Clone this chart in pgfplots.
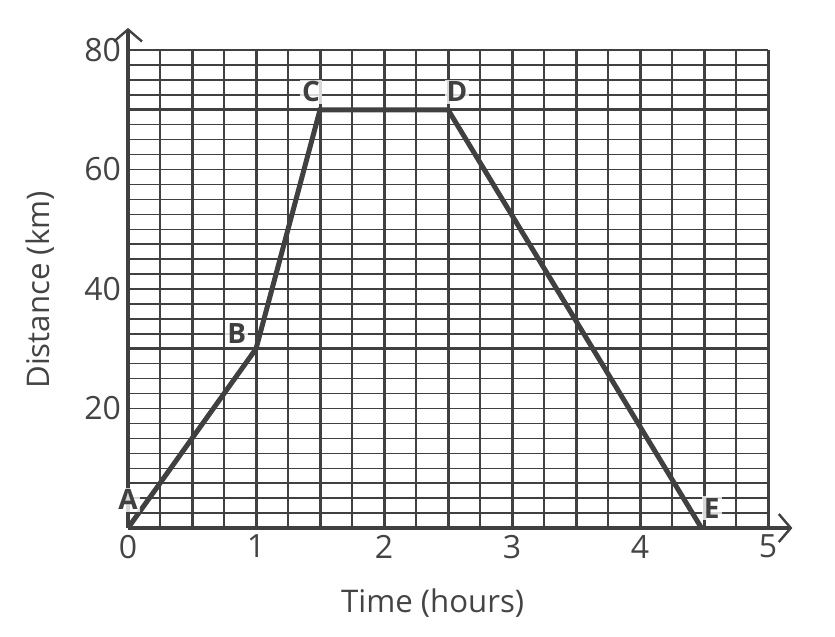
\documentclass[border=0pt]{standalone}
\usepackage{fontspec}
\setmainfont{Open Sans}
\usepackage{pgfplots}
\pgfplotsset{compat=1.18}
\usetikzlibrary{arrows.meta}
\definecolor{ink}{HTML}{404040}
\definecolor{txt}{HTML}{444444}

\begin{document}
\begin{tikzpicture}
  \begin{axis}[
      scale only axis,
      width=320pt,
      height=239pt,
      xmin=0, xmax=5,
      ymin=0, ymax=80,
      clip=false,
      axis x line=bottom,
      axis y line=left,
      axis line style={draw=none},
      major tick length=0pt,
      minor tick length=0pt,
      xtick={0,0.5,...,5},
      xticklabels={0,,1,,2,,3,,4,,5},
      minor x tick num=1,
      ytick={0,2.5,...,80},
      yticklabels={,,,,,,,,20,,,,,,,,40,,,,,,,,60,,,,,,,,80},
      minor y tick num=0,
      grid=both,
      major x grid style={ink, line width=1.5pt},
      minor x grid style={ink, line width=0.75pt},
      major y grid style={ink, line width=0.75pt},
      /pgf/number format/assume math mode=true,
      ticklabel style={font=\fontsize{16}{18}\selectfont, text=txt},
      xlabel={Time (hours)},
      ylabel={Distance (km)},
      label style={font=\fontsize{15.6}{18}\selectfont, text=txt},
      xlabel style={at={(axis description cs:0.476,-0.157)}, anchor=center},
      ylabel style={at={(axis description cs:-0.1375,0.498)}, anchor=center},
    ]
    % invisible frame matching the reference's margins
    \path (axis cs:-1,-18.08) rectangle (axis cs:5.523,88.37);

    % heavier grid lines at 30 and 70 km
    \draw[ink, line width=1.5pt] (axis cs:0,30) -- (axis cs:5,30);
    \draw[ink, line width=1.5pt] (axis cs:0,70) -- (axis cs:5,70);

    \draw[ink, line width=2.2pt, -{Straight Barb[length=6pt, width=14pt, line width=1.2pt]}]
      (axis cs:0,0) -- (axis cs:0,83.7);
    \draw[ink, line width=2.2pt, -{Straight Barb[length=6pt, width=14pt, line width=1.2pt]}]
      (axis cs:0,0) -- (axis cs:5.19,0);

    \addplot[ink, line width=2.5pt, mark=none] coordinates {
      (0,0) (1,30) (1.5,70) (2.5,70) (4.48,0)
    };

    \tikzset{pt/.style={font=\fontsize{14}{16}\selectfont\bfseries, text=ink,
      fill=white, fill opacity=0.8, text opacity=1, inner sep=1pt}}
    \node[pt] at (axis cs:0,4.7) {A};
    \node[pt] at (axis cs:0.85,32.6) {B};
    \node[pt] at (axis cs:1.43,73) {C};
    \node[pt] at (axis cs:2.57,73) {D};
    \node[pt] at (axis cs:4.56,3.3) {E};
  \end{axis}
\end{tikzpicture}
\end{document}
